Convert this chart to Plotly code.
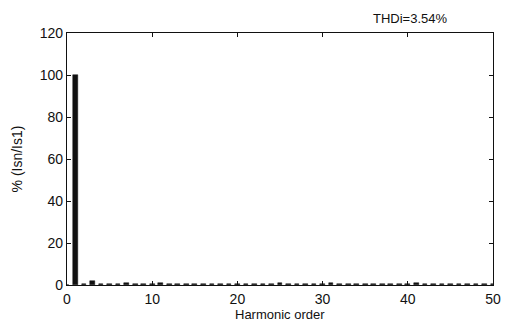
import plotly.graph_objects as go

# Harmonic spectrum of the source current, as % of the fundamental
orders = list(range(0, 51))
magnitude = [
    0.0, 100.0, 0.4, 1.8, 0.4, 0.6, 0.4, 1.0, 0.4, 0.6,
    0.5, 0.9, 0.4, 0.6, 0.4, 0.5, 0.4, 0.5, 0.4, 0.5,
    0.4, 0.5, 0.4, 0.5, 0.5, 0.9, 0.4, 0.5, 0.4, 0.5,
    0.4, 0.9, 0.4, 0.5, 0.4, 0.5, 0.4, 0.5, 0.4, 0.5,
    0.4, 0.9, 0.4, 0.5, 0.4, 0.5, 0.4, 0.5, 0.4, 0.5,
    0.5,
]
x_ticks = [0, 10, 20, 30, 40, 50]
y_ticks = [0, 20, 40, 60, 80, 100, 120]
thd_label = "THDi=3.54%"
x_title = "Harmonic order"
y_title = "% (Isn/Is1)"

font = "Liberation Sans, Arial, sans-serif"
ink = "#111111"

fig = go.Figure(
    go.Bar(
        x=orders,
        y=magnitude,
        width=0.55,
        marker=dict(color=ink, line=dict(color=ink, width=0.5)),
    )
)

axis_common = dict(
    showgrid=False,
    zeroline=False,
    showline=True,
    linecolor=ink,
    linewidth=1.3,
    mirror="ticks",
    ticks="inside",
    ticklen=4,
    tickcolor=ink,
    automargin=False,
    tickfont=dict(family=font, size=14, color=ink),
)

fig.update_layout(
    width=506,
    height=323,
    margin=dict(l=67, r=13, t=33, b=38),
    paper_bgcolor="white",
    plot_bgcolor="white",
    showlegend=False,
    bargap=0,
    xaxis=dict(range=[0, 50], tickvals=x_ticks, ticklabelstandoff=1, **axis_common),
    yaxis=dict(
        range=[0, 120],
        tickvals=y_ticks,
        title=dict(text=y_title, font=dict(family=font, size=14, color=ink), standoff=13),
        **axis_common,
    ),
    annotations=[
        dict(
            text=thd_label,
            xref="paper", yref="paper",
            x=0.805, y=1.0,
            xanchor="center", yanchor="bottom",
            yshift=5,
            showarrow=False,
            font=dict(family=font, size=13, color=ink),
        ),
        # x-axis title, set low under the tick labels
        dict(
            text=x_title,
            xref="paper", yref="paper",
            x=0.5, y=0.0,
            xanchor="center", yanchor="top",
            yshift=-21,
            borderpad=0,
            showarrow=False,
            font=dict(family=font, size=13, color=ink),
        ),
    ],
)

fig.write_html("out.html")
